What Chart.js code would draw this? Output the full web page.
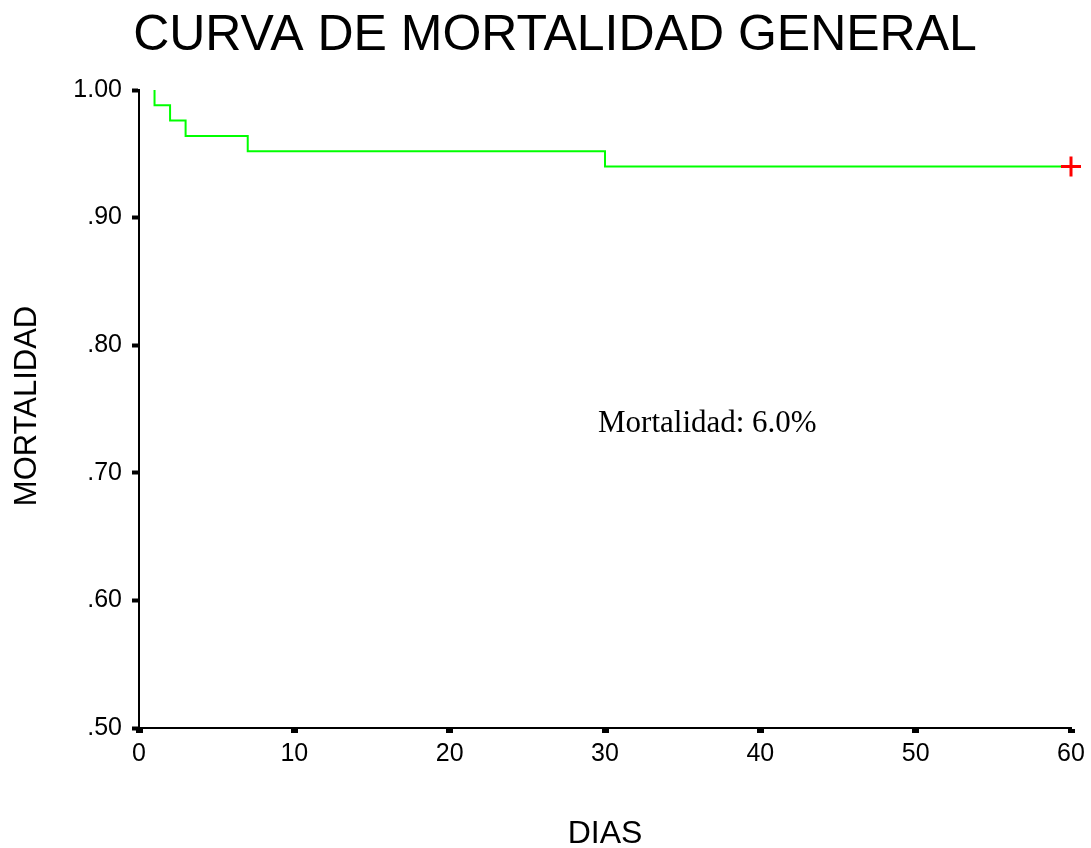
<!DOCTYPE html>
<html>
<head>
<meta charset="utf-8">
<script src="https://cdn.jsdelivr.net/npm/chart.js@4.4.0/dist/chart.umd.min.js"></script>
<style>
  html, body { margin: 0; padding: 0; background: #fff; }
  #zone { width: 1091px; height: 848px; }
</style>
</head>
<body>
<div id="zone"><canvas id="courbe"></canvas></div>
<script>
// --- DONNEES ---
const jours = [1, 1, 2, 3, 7, 30, 60];
const survie = [1.000, 0.988, 0.976, 0.964, 0.952, 0.940, 0.940];
const censureJours = [60];
const censureSurvie = [0.940];
const xTicks = [0, 10, 20, 30, 40, 50, 60];
const yTickLabels = ['.50', '.60', '.70', '.80', '.90', '1.00'];

const titre = 'CURVA DE MORTALIDAD GENERAL';
const titreX = 'DIAS';
const titreY = 'MORTALIDAD';
const note = 'Mortalidad: 6.0%';
const notePos = { x: 29.55, y: 0.732 };

const sans = '"Liberation Sans", Arial, sans-serif';
const serif = '"Liberation Serif", "Times New Roman", serif';

// Textes dessinés sur le canvas
const textes = {
    id: 'textes',
    afterDraw(chart) {
        const c = chart.ctx;
        const x = chart.scales.x, y = chart.scales.y;
        c.save();
        c.fillStyle = '#000';
        c.textAlign = 'center';
        c.textBaseline = 'alphabetic';
        c.font = '50px ' + sans;
        c.fillText(titre, 555, 50);
        c.font = '32px ' + sans;
        c.fillText(titreX, 605, 843);
        c.save();
        c.translate(36, 406);
        c.rotate(-Math.PI / 2);
        c.font = '31px ' + sans;
        c.fillText(titreY, 0, 0);
        c.restore();
        c.textAlign = 'left';
        c.font = '31px ' + serif;
        c.fillText(note, x.getPixelForValue(notePos.x), y.getPixelForValue(notePos.y));
        c.restore();
    }
};

const ctx = document.getElementById('courbe').getContext('2d');
new Chart(ctx, {
    type: 'scatter',
    data: {
        datasets: [{
            data: censureJours.map((j, i) => ({ x: j, y: censureSurvie[i] })),
            pointStyle: 'cross',
            pointRadius: 10,
            borderColor: '#ff0000',
            borderWidth: 3,
            clip: false,
            order: 0
        }, {
            data: jours.map((j, i) => ({ x: j, y: survie[i] })),
            showLine: true,
            stepped: true,
            borderColor: '#00ff00',
            borderWidth: 2,
            pointRadius: 0,
            fill: false,
            order: 1
        }]
    },
    options: {
        responsive: true,
        maintainAspectRatio: false,
        animation: false,
        layout: { padding: { top: 90, right: 20, bottom: 0, left: 0 } },
        plugins: {
            legend: { display: false },
            tooltip: { enabled: false }
        },
        scales: {
            x: {
                type: 'linear',
                min: 0,
                max: 60,
                afterFit: s => { s.height = 120; },
                afterBuildTicks: s => { s.ticks = xTicks.map(v => ({ value: v })); },
                grid: { drawOnChartArea: false, drawTicks: true, tickLength: 5, tickWidth: 7, tickColor: '#000' },
                border: { color: '#000', width: 2 },
                ticks: { color: '#000', padding: 6, font: { family: sans, size: 25 }, maxRotation: 0 }
            },
            y: {
                min: 0.5,
                max: 1.0,
                afterFit: s => { s.width = 139; },
                ticks: {
                    stepSize: 0.1,
                    color: '#000',
                    padding: 10,
                    font: { family: sans, size: 25 },
                    callback: (v, i) => yTickLabels[i]
                },
                grid: { drawOnChartArea: false, drawTicks: true, tickLength: 7, tickWidth: 4, tickColor: '#000' },
                border: { color: '#000', width: 2 }
            }
        }
    },
    plugins: [textes]
});
</script>
</body>
</html>
